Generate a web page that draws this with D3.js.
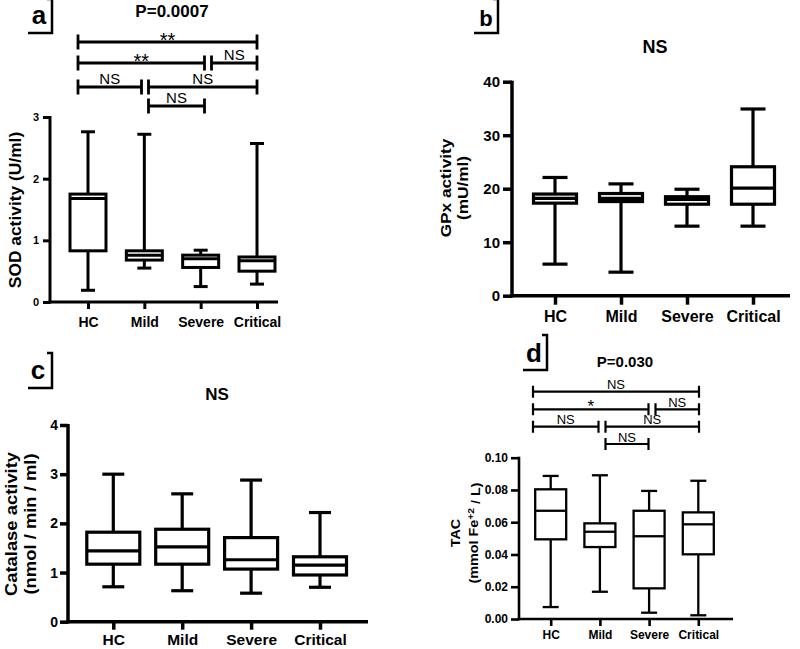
<!DOCTYPE html>
<html><head><meta charset="utf-8">
<script src="https://cdn.jsdelivr.net/npm/d3@7"></script>
<style>
body{margin:0;background:#fff}
svg{display:block}
text{font-family:"Liberation Sans",Arial,sans-serif;fill:#000}
</style>
</head><body>
<svg id="chart" width="800" height="649"></svg>
<script>
// ---------- DATA ----------
const categories = ["HC", "Mild", "Severe", "Critical"];
// each row: [min, Q1, median, Q3, max]
const sodStats = [[0.19, 0.83, 1.68, 1.75, 2.76], [0.55, 0.68, 0.76, 0.83, 2.72], [0.25, 0.56, 0.70, 0.76, 0.84], [0.29, 0.50, 0.67, 0.73, 2.57]];
const gpxStats = [[5.9, 17.3, 18.2, 19.0, 22.1], [4.4, 17.6, 18.2, 19.1, 20.9], [13.0, 17.1, 18.0, 18.5, 19.9], [13.0, 17.1, 20.1, 24.1, 34.9]];
const catalaseStats = [[0.71, 1.17, 1.44, 1.82, 3.00], [0.63, 1.17, 1.52, 1.88, 2.60], [0.58, 1.07, 1.26, 1.71, 2.88], [0.70, 0.95, 1.15, 1.32, 2.22]];
const tacStats = [[0.0074, 0.0494, 0.0671, 0.0804, 0.0887], [0.0169, 0.0446, 0.0541, 0.0593, 0.0891], [0.0039, 0.0190, 0.0513, 0.0671, 0.0794], [0.0023, 0.0401, 0.0587, 0.0661, 0.0857]];
const sodTicks = [0, 1, 2, 3];
const gpxTicks = [0, 10, 20, 30, 40];
const catalaseTicks = [0, 1, 2, 3, 4];
const tacTicks = [0, 0.02, 0.04, 0.06, 0.08, 0.10];
const panelLetters = ["a", "b", "c", "d"];
const panelTitles = ["P=0.0007", "NS", "NS", "P=0.030"];
// comparison brackets: [from category index, to category index, label, row]
const sodBrackets = [[0, 3, "**", 0], [0, 2, "**", 1], [2, 3, "NS", 1], [0, 1, "NS", 2], [1, 3, "NS", 2], [1, 2, "NS", 3]];
const tacBrackets = [[0, 3, "NS", 0], [0, 2, "*", 1], [2, 3, "NS", 1], [0, 1, "NS", 2], [1, 3, "NS", 2], [1, 2, "NS", 3]];

// ---------- DRAWING ----------
const svg = d3.select("#chart");
const LABEL_STRETCH = 1.15; // rotated labels are elongated in the reference

function drawPanel(o) {
  const g = svg.append("g");
  const y = d3.scaleLinear().domain(o.domain).range([o.yBot, o.yTop]);
  const x = d3.scalePoint().domain(categories).range(o.cat);

  // y axis
  const ya = g.append("g").attr("transform", `translate(${o.x0},0)`)
    .call(d3.axisLeft(y).tickValues(o.ticks).tickFormat(o.fmt)
      .tickSize(o.yTickLen).tickPadding(o.yTickPad).tickSizeOuter(0));
  ya.select(".domain").attr("stroke", "#000").attr("stroke-width", o.axisW)
    .attr("d", `M0,${y(o.domain[0]) + o.axisW / 2}V${y(o.domain[1]) - 1}`);
  ya.selectAll(".tick line").attr("stroke", "#000").attr("stroke-width", o.axisW);
  ya.selectAll(".tick text").attr("font-size", o.yTickFont).attr("font-weight", "bold");

  // x axis line
  g.append("line").attr("x1", o.x0 - o.axisW / 2).attr("x2", o.x1)
    .attr("y1", y(0)).attr("y2", y(0)).attr("stroke", "#000").attr("stroke-width", o.axisW);
  const xa = g.append("g").attr("transform", `translate(0,${y(0)})`)
    .call(d3.axisBottom(x).tickSize(o.xTickLen).tickSizeOuter(0));
  xa.select(".domain").remove();
  xa.selectAll(".tick line").attr("stroke", "#000").attr("stroke-width", o.axisW);
  xa.selectAll(".tick text").attr("font-size", o.xFont).attr("font-weight", "bold")
    .attr("y", o.xBase - y(0)).attr("dy", 0);

  // boxes
  const bx = g.selectAll(".box").data(o.stats).join("g").attr("class", "box")
    .attr("transform", (d, i) => `translate(${x(categories[i])},0)`);
  const st = sel => sel.attr("stroke", "#000").attr("stroke-width", o.sw).attr("fill", "none");
  bx.append("line").attr("x1", 0).attr("x2", 0).attr("y1", d => y(d[4])).attr("y2", d => y(d[3])).call(st);
  bx.append("line").attr("x1", 0).attr("x2", 0).attr("y1", d => y(d[1])).attr("y2", d => y(d[0])).call(st);
  bx.append("line").attr("x1", -o.capW / 2).attr("x2", o.capW / 2).attr("y1", d => y(d[4])).attr("y2", d => y(d[4])).call(st);
  bx.append("line").attr("x1", -o.capW / 2).attr("x2", o.capW / 2).attr("y1", d => y(d[0])).attr("y2", d => y(d[0])).call(st);
  bx.append("rect").attr("x", -o.boxW / 2).attr("width", o.boxW)
    .attr("y", d => y(d[3])).attr("height", d => y(d[1]) - y(d[3]))
    .attr("fill", "#fff").attr("stroke", "#000").attr("stroke-width", o.sw);
  bx.append("line").attr("x1", -o.boxW / 2).attr("x2", o.boxW / 2).attr("y1", d => y(d[2])).attr("y2", d => y(d[2])).call(st);

  // y label
  const yl = g.append("text")
    .attr("transform", `translate(${o.ylx},${o.yly}) rotate(-90) scale(${LABEL_STRETCH},1)`)
    .attr("text-anchor", "middle").attr("font-weight", "bold").attr("font-size", o.ylFont);
  o.ylabel(yl);

  // title
  g.append("text").attr("x", o.tx).attr("y", o.ty).attr("text-anchor", "middle")
    .attr("font-weight", "bold").attr("font-size", o.tFont).text(o.title);

  // panel letter with bracket frame
  g.append("text").attr("x", o.lx).attr("y", o.ly).attr("text-anchor", "middle")
    .attr("font-weight", "bold").attr("font-size", o.lFont).text(o.letter);
  g.append("path").attr("d", `M${o.fx - 5},${o.fy0}H${o.fx}V${o.fy1}H${o.fx - 24}`)
    .attr("fill", "none").attr("stroke", "#000").attr("stroke-width", 2.5);

  // comparison brackets
  if (o.brackets) {
    const b = o.brackets;
    const bxs = d3.scaleLinear().domain([0, 1, 2, 3]).range(b.stops);
    const n = categories.length - 1;
    b.list.forEach(([a, c, lab, row]) => {
      const xa1 = bxs(a) + (a > 0 && a < n ? b.gap : 0);
      const xa2 = bxs(c) - (c > 0 && c < n ? b.gap : 0);
      const yy = b.rows[row];
      g.append("path").attr("d", `M${xa1},${yy}H${xa2}M${xa1},${yy - b.h}V${yy + b.h}M${xa2},${yy - b.h}V${yy + b.h}`)
        .attr("fill", "none").attr("stroke", "#000").attr("stroke-width", b.sw);
      const star = lab.indexOf("*") >= 0;
      g.append("text").attr("x", (xa1 + xa2) / 2).attr("y", star ? yy + b.starOff : yy - b.nsOff)
        .attr("text-anchor", "middle").attr("font-size", star ? b.starFont : b.nsFont).text(lab);
    });
  }
}

drawPanel({
  stats: sodStats, ticks: sodTicks, fmt: d3.format("d"), domain: [0, 3],
  x0: 50, x1: 278, yTop: 117, yBot: 302, cat: [88, 257], boxW: 36, capW: 14, sw: 3, axisW: 3,
  yTickLen: 7, yTickPad: 4, yTickFont: 11, xTickLen: 7, xFont: 14, xBase: 326.5,
  ylx: 15, yly: 210, ylFont: 16,
  ylabel: t => t.attr("dy", "0.35em").attr("textLength", 136).attr("lengthAdjust", "spacingAndGlyphs")
    .text("SOD activity (U/ml)"),
  title: panelTitles[0], tx: 172, ty: 17, tFont: 17,
  letter: panelLetters[0], lx: 39, ly: 24, lFont: 26, fx: 52, fy0: -1, fy1: 33,
  brackets: { list: sodBrackets, stops: [78, 145, 208, 257], gap: 3.5, rows: [42, 63, 87, 106], h: 7.5, sw: 2.8, nsOff: 3, starOff: 5, nsFont: 15, starFont: 20 }
});

drawPanel({
  stats: gpxStats, ticks: gpxTicks, fmt: d3.format("d"), domain: [0, 40],
  x0: 512, x1: 790, yTop: 81.7, yBot: 295.7, cat: [555, 753], boxW: 43, capW: 25, sw: 3.2, axisW: 3.5,
  yTickLen: 9, yTickPad: 3, yTickFont: 15, xTickLen: 9, xFont: 16, xBase: 322.5,
  ylx: 456, yly: 188, ylFont: 15,
  ylabel: t => {
    t.append("tspan").attr("x", 0).attr("dy", "-0.33em").text("GPx activity");
    t.append("tspan").attr("x", 0).attr("dy", "1.15em").text("(mU/ml)");
  },
  title: panelTitles[1], tx: 655, ty: 53, tFont: 18,
  letter: panelLetters[1], lx: 486, ly: 26, lFont: 22, fx: 498, fy0: -1, fy1: 33
});

drawPanel({
  stats: catalaseStats, ticks: catalaseTicks, fmt: d3.format("d"), domain: [0, 4],
  x0: 68, x1: 368, yTop: 425, yBot: 621.7, cat: [113.3, 320], boxW: 53, capW: 22, sw: 3.2, axisW: 3.5,
  yTickLen: 8, yTickPad: 2, yTickFont: 14, xTickLen: 8, xFont: 15.5, xBase: 645,
  ylx: 22, yly: 524, ylFont: 16,
  ylabel: t => {
    t.append("tspan").attr("x", 0).attr("dy", "-0.3em").text("Catalase activity");
    t.append("tspan").attr("x", 0).attr("dy", "1.2em").text("(nmol / min / ml)");
  },
  title: panelTitles[2], tx: 217, ty: 400, tFont: 17,
  letter: panelLetters[2], lx: 38, ly: 379, lFont: 26, fx: 52, fy0: 353, fy1: 388
});

drawPanel({
  stats: tacStats, ticks: tacTicks, fmt: d3.format(".2f"), domain: [0, 0.10],
  x0: 519, x1: 733, yTop: 457.7, yBot: 619, cat: [550.7, 698.3], boxW: 31, capW: 16, sw: 2.3, axisW: 2.6,
  yTickLen: 8, yTickPad: 3, yTickFont: 12, xTickLen: 7, xFont: 12, xBase: 639,
  ylx: 466, yly: 533, ylFont: 12.5,
  ylabel: t => {
    t.append("tspan").attr("x", 0).attr("dy", "-0.45em").text("TAC");
    const l2 = t.append("tspan").attr("x", 0).attr("dy", "1.45em");
    l2.append("tspan").text("(mmol Fe");
    l2.append("tspan").attr("dy", "-0.45em").attr("font-size", 9).text("+2");
    l2.append("tspan").attr("dy", "0.45em").text(" / L)");
  },
  title: panelTitles[3], tx: 625, ty: 367, tFont: 15,
  letter: panelLetters[3], lx: 534, ly: 362, lFont: 26, fx: 547, fy0: 335, fy1: 370,
  brackets: { list: tacBrackets, stops: [533, 602, 652, 699], gap: 3.5, rows: [391.7, 409.3, 426.7, 444], h: 6, sw: 2.2, nsOff: 2.5, starOff: 2.5, nsFont: 13, starFont: 17 }
});
</script>
</body></html>
